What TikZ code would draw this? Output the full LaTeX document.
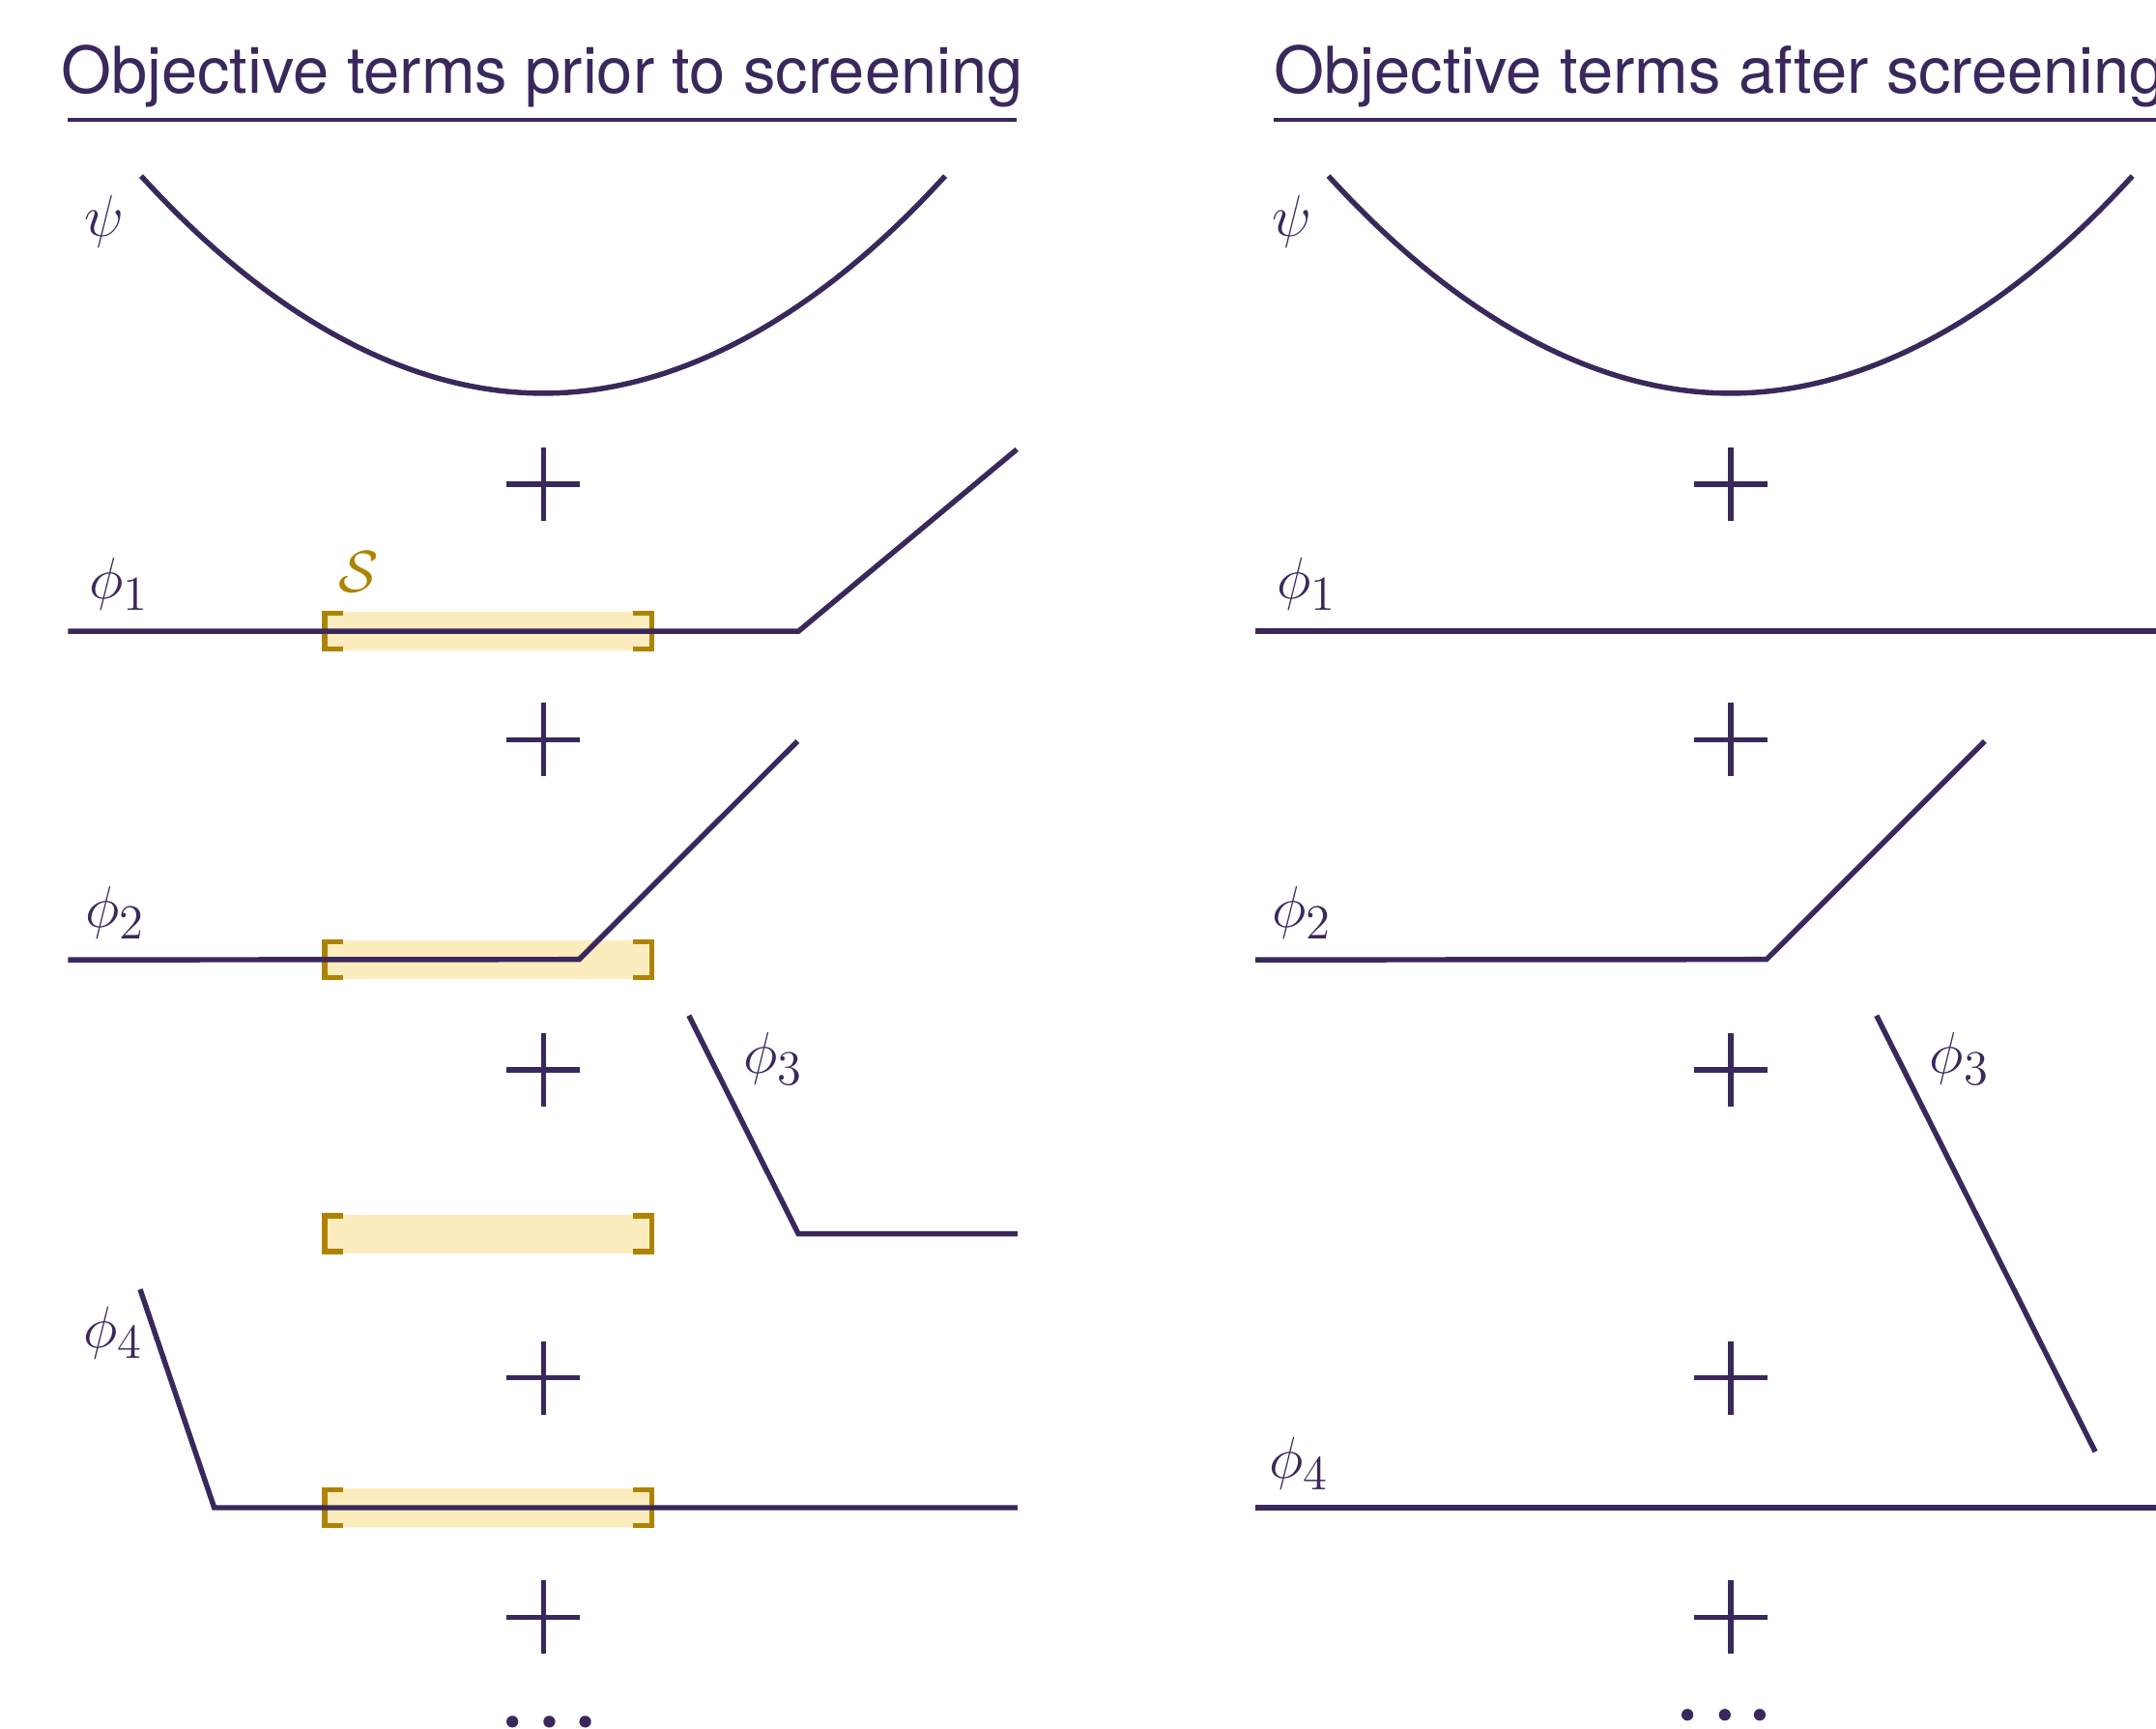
\documentclass[tikz,border=0pt]{standalone}
\usepackage{fontspec}
\newfontfamily\headfont{TeX Gyre Heros}
\DeclareMathSizes{19}{19}{15.5}{12}
\definecolor{purp}{RGB}{58,40,92}
\definecolor{goldc}{RGB}{173,131,0}
\definecolor{hlfill}{RGB}{253,237,190}
\tikzset{
  curve/.style={draw=purp, line width=1.55pt},
  uline/.style={draw=purp, line width=1.1pt},
  brk/.style={draw=goldc, line width=1.6pt},
  hlbox/.style={fill=hlfill, draw=none},
  lab/.style={text=purp, inner sep=0pt, font=\fontsize{19}{23}\selectfont},
  title/.style={text=purp, inner sep=0pt, anchor=base west, font=\headfont\fontsize{19}{23}\selectfont},
  dotc/.style={fill=purp, draw=none},
  pics/plussign/.style={code={\draw[curve] (-26.7,0) -- (26.7,0) (0,-26.7) -- (0,26.7);}},
  pics/setband/.style={code={
    \fill[hlbox] (235,-14) rectangle (475,14);
    \draw[brk] (249.5,-13) -- (236,-13) -- (236,13) -- (249.5,13);
    \draw[brk] (460.5,-13) -- (474,-13) -- (474,13) -- (460.5,13);}}
}
\begin{document}
\begin{tikzpicture}[x=0.0142283cm, y=-0.0142283cm]
\useasboundingbox (0,0) rectangle (1568,1257);
\clip (0,0) rectangle (1568,1257);

% ---------- titles ----------
\node[title] (tleft) at (44,68) {Objective terms prior to screening};
\node[title] (tright) at (926.4,68) {Objective terms after screening};
\draw[uline] (49.4,87.2) -- (739.5,87.2);
\draw[uline] (926,87.2) -- (1600,87.2);

% ---------- highlight bands (left panel) ----------
\pic at (0,459) {setband};
\pic at (0,698) {setband};
\pic at (0,897.3) {setband};
\pic at (0,1096.4) {setband};
\node[inner sep=0pt, text=goldc, font=\fontsize{19}{23}\selectfont] (S) at (261,416) {$\mathcal{S}$};

% ---------- left panel ----------
\draw[curve] (102.6,128) parabola bend (395,286) (687.4,128);
\node[lab] (psiL) at (76,161) {$\psi$};

\draw[curve] (49.5,459) -- (580.8,459) -- (739.5,326.8);
\node[lab, anchor=west] (p1L) at (64.5,424.8) {$\phi_1$};

\draw[curve] (49.5,698) -- (421.2,697.7) -- (580,539);
\node[lab, anchor=west] (p2L) at (61.5,663.8) {$\phi_2$};

\draw[curve] (501,738.5) -- (580.6,897.3) -- (740,897.3);
\node[lab, anchor=west] (p3L) at (540,770) {$\phi_3$};

\draw[curve] (101.9,937.6) -- (155.8,1096.4) -- (740,1096.4);
\node[lab, anchor=west] (p4L) at (60.5,969.2) {$\phi_4$};

\foreach \yy in {352,538,778,1002,1176} \pic at (395.2,\yy) {plussign};
\foreach \xx in {372.6,399.5,425.6} \fill[dotc] (\xx,1252) circle (4.3);

% ---------- right panel ----------
\draw[curve] (966.1,128) parabola bend (1258.5,286) (1550.9,128);
\node[lab] (psiR) at (939.5,161) {$\psi$};

\draw[curve] (913,459) -- (1600,459);
\node[lab, anchor=west] (p1R) at (928,424.8) {$\phi_1$};

\draw[curve] (913,698) -- (1284.7,697.7) -- (1443.5,539);
\node[lab, anchor=west] (p2R) at (924.5,663.8) {$\phi_2$};

\draw[curve] (1364.7,738.5) -- (1523.8,1055.7);
\node[lab, anchor=west] (p3R) at (1403,770) {$\phi_3$};

\draw[curve] (912.8,1096.4) -- (1600,1096.4);
\node[lab, anchor=west] (p4R) at (922.5,1064.4) {$\phi_4$};

\foreach \yy in {352,538,778,1002,1176} \pic at (1258.6,\yy) {plussign};
\foreach \xx in {1227.2,1254.4,1279.8} \fill[dotc] (\xx,1247) circle (4.3);
\end{tikzpicture}
\end{document}
